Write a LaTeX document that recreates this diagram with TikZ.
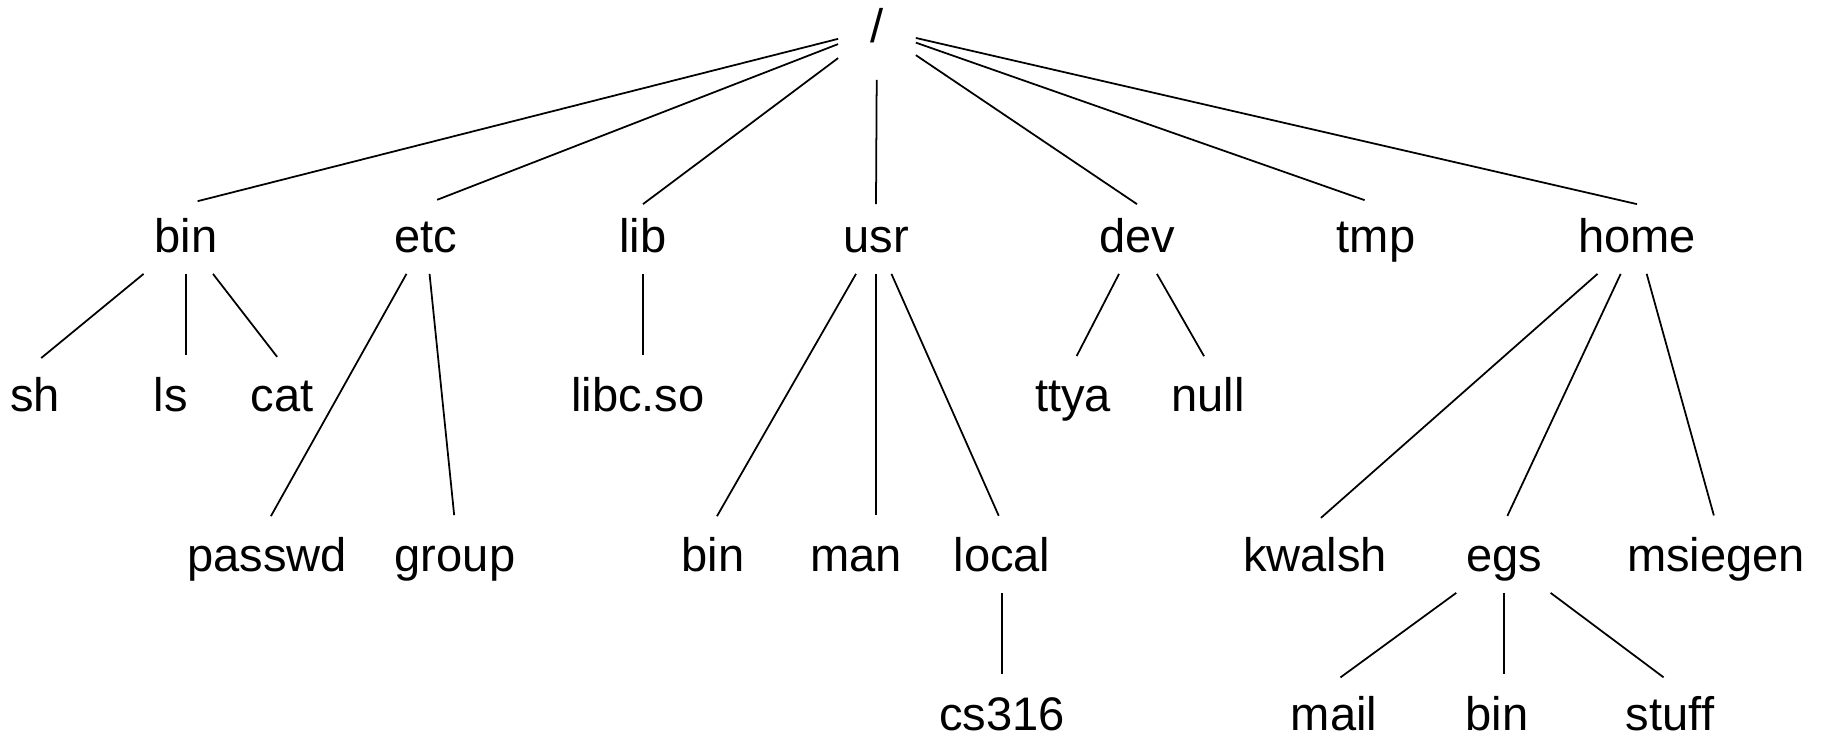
\documentclass[tikz,border=0pt]{standalone}
\usepackage{fontspec}
\setmainfont{Liberation Sans}

\begin{document}
\begin{tikzpicture}[x=0.1mm,y=-0.1mm,line width=0.5pt,
  every node/.style={anchor=base,font=\fontsize{13.4}{16}\selectfont,text height=3.6mm,text depth=1mm,inner sep=1.1mm},
  root/.style={minimum width=7.6mm,minimum height=10mm},
  link/.style={shorten >=0.8mm}]
\useasboundingbox (0,0) rectangle (1827,737);

\node[root] (root) at (877,42) {/};

\node (bin) at (186,252) {bin};
\node (etc) at (426,252) {etc};
\node (lib) at (643,252) {lib};
\node (usr) at (876,252) {usr};
\node (dev) at (1137,252) {dev};
\node (tmp) at (1376,252) {tmp};
\node (home) at (1637,252) {home};

\node (sh) at (35,411) {sh};
\node (ls) at (171,411) {ls};
\node (cat) at (282,411) {cat};
\node (libc) at (638,411) {libc.so};
\node (ttya) at (1073,411) {ttya};
\node (null) at (1208,411) {null};

\node (passwd) at (267,571) {passwd};
\node (group) at (455,571) {group};
\node (ubin) at (713,571) {bin};
\node (man) at (856,571) {man};
\node (local) at (1002,571) {local};
\node (kwalsh) at (1315,571) {kwalsh};
\node (egs) at (1504,571) {egs};
\node (msiegen) at (1716,571) {msiegen};

\node (cs) at (1002,730) {cs316};
\node (mail) at (1334,730) {mail};
\node (ebin) at (1497,730) {bin};
\node (stuff) at (1670,730) {stuff};

% from the root
\draw[link,shorten >=1.2mm] (root)--(bin.north);
\draw[link,shorten >=1.2mm] (root)--(etc.north);
\draw[link,shorten >=0mm] (root)--(lib.north);
\draw[link,shorten >=0mm] (root)--(usr.north);
\draw[link,shorten >=0mm] (root)--(dev.north);
\draw[link,shorten >=1.2mm] (root)--(tmp.north);
\draw[link,shorten >=0mm] (root)--(home.north);

% second level
\draw[link] (bin)--(sh.north);
\draw[link] (bin)--(bin |- ls.north);
\draw[link] (bin)--(cat.north);
\draw[link] (etc)--(passwd.north);
\draw[link] (etc)--(group.north);
\draw[link] (lib)--(lib |- libc.north);
\draw[link] (usr)--(ubin.north);
\draw[link] (usr)--(usr |- man.north);
\draw[link] (usr)--(local.north);
\draw[link] (dev)--(ttya.north);
\draw[link] (dev)--(null.north);
\draw[link] (home)--(kwalsh.north);
\draw[link] (home)--(egs.north);
\draw[link] (home)--(msiegen.north);

% third level
\draw[link] (local)--(cs.north);
\draw[link] (egs)--(mail.north);
\draw[link] (egs)--(egs |- ebin.north);
\draw[link] (egs)--(stuff.north);
\end{tikzpicture}
\end{document}
